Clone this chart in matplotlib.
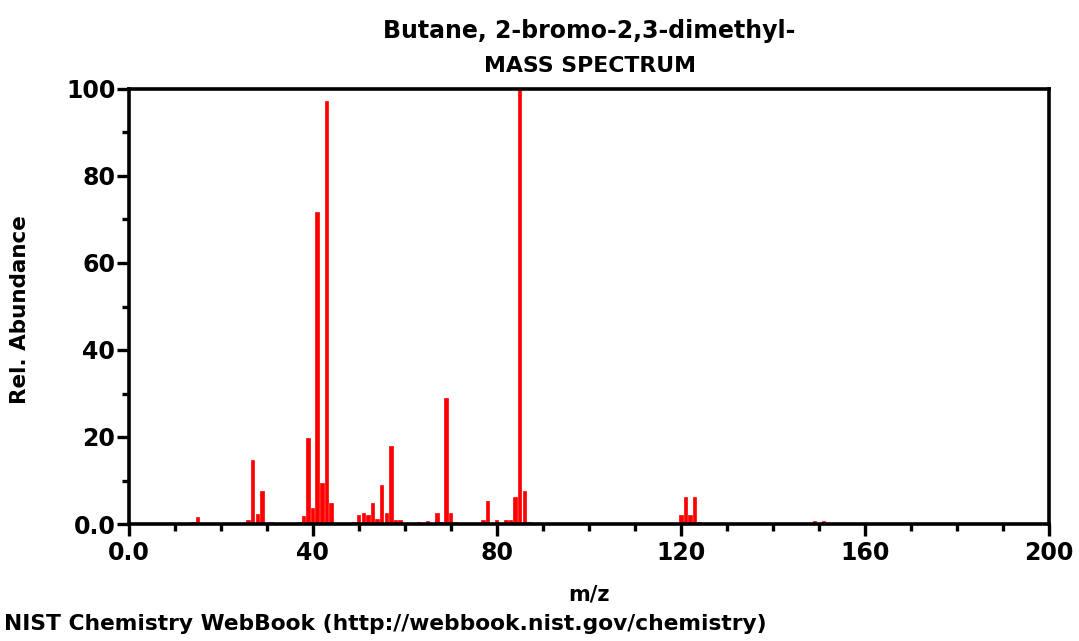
import matplotlib
matplotlib.use("Agg")
import matplotlib.pyplot as plt
from matplotlib.ticker import MultipleLocator, FixedLocator

plt.rcParams['font.family'] = ['DejaVu Sans']

mz = [14, 15, 26, 27, 28, 29, 30, 31, 32, 37, 38, 39, 40, 41, 42, 43, 44, 45,
      49, 50, 51, 52, 53, 54, 55, 56, 57, 58, 59, 60, 62, 63, 65, 66, 67, 68,
      69, 70, 71, 72, 77, 78, 80, 82, 83, 84, 85, 86, 87, 91, 93, 95, 105,
      108, 109, 120, 121, 122, 123, 124, 125, 149, 151, 163, 165]
abundance = [0.5, 1.5, 1.0, 14.6, 2.3, 7.7, 0.3, 0.5, 0.3, 0.5, 1.8, 19.7, 3.7,
             71.7, 9.4, 97.3, 4.8, 0.3, 0.5, 2.1, 2.6, 2.1, 4.9, 1.1, 9.0, 2.6,
             18.0, 0.9, 0.9, 0.3, 0.3, 0.4, 0.8, 0.3, 2.6, 0.5, 28.9, 2.6, 0.5,
             0.3, 1.0, 5.4, 1.0, 1.0, 1.0, 6.1, 100.0, 7.7, 0.5, 0.3, 0.3, 0.3,
             0.3, 0.3, 0.3, 2.1, 6.1, 2.1, 6.1, 0.5, 0.3, 0.8, 0.8, 0.3, 0.3]

title_line1 = "Butane, 2-bromo-2,3-dimethyl-"
title_line2 = "MASS SPECTRUM"
x_label = "m/z"
y_label = "Rel. Abundance"
footer = "NIST Chemistry WebBook (http://webbook.nist.gov/chemistry)"
x_major = [0, 40, 80, 120, 160, 200]
x_major_labels = ["0.0", "40", "80", "120", "160", "200"]
y_major = [0, 20, 40, 60, 80, 100]
y_major_labels = ["0.0", "20", "40", "60", "80", "100"]

fig = plt.figure(figsize=(10.79, 6.41), dpi=100)
ax = fig.add_axes([128.5 / 1079, 1 - 524 / 641, (1049 - 128.5) / 1079, (524 - 89) / 641])

ax.bar(mz, abundance, width=0.75, color="#ff0000", edgecolor="#ff0000", linewidth=0.5, zorder=2)

ax.set_xlim(0, 200)
ax.set_ylim(0, 100)

for s in ax.spines.values():
    s.set_linewidth(2.6)
    s.set_color("black")
    s.set_zorder(3)

ax.xaxis.set_major_locator(FixedLocator(x_major))
ax.set_xticklabels(x_major_labels)
ax.xaxis.set_minor_locator(MultipleLocator(10))
ax.yaxis.set_major_locator(FixedLocator(y_major))
ax.set_yticklabels(y_major_labels)
ax.yaxis.set_minor_locator(MultipleLocator(10))

ax.tick_params(axis="both", which="major", direction="out", length=8.5, width=2.4,
               labelsize=17)
ax.tick_params(axis="x", which="major", pad=4)
ax.tick_params(axis="y", which="major", pad=1)
ax.tick_params(axis="both", which="minor", direction="out", length=5, width=2.4)
ax.tick_params(top=False, right=False)
for lab in ax.get_xticklabels() + ax.get_yticklabels():
    lab.set_fontweight("bold")

fig.text(589 / 1079, 1 - 31 / 641, title_line1, ha="center", va="center",
         fontsize=17, fontweight="bold")
fig.text(590 / 1079, 1 - 66 / 641, title_line2, ha="center", va="center",
         fontsize=15.8, fontweight="bold")
fig.text(589 / 1079, 1 - 595 / 641, x_label, ha="center", va="center",
         fontsize=15, fontweight="bold")
fig.text(20 / 1079, 1 - 310 / 641, y_label, ha="center", va="center",
         rotation=90, fontsize=15.5, fontweight="bold")
fig.text(4 / 1079, 1 - 624 / 641, footer, ha="left", va="center",
         fontsize=15.7, fontweight="bold")

fig.savefig("out.png", dpi=100)
